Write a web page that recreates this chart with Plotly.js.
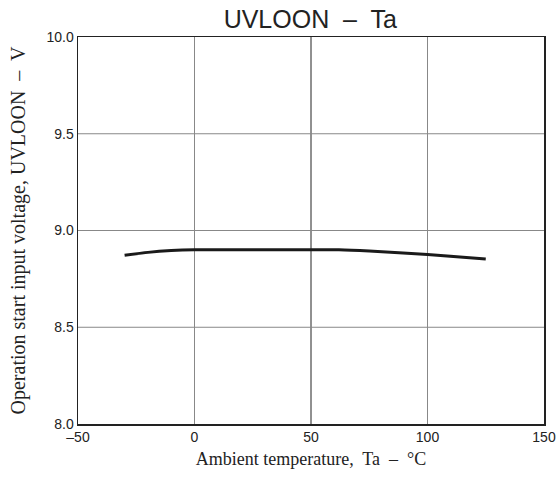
<!DOCTYPE html>
<html><head><meta charset="utf-8">
<script src="https://cdn.plot.ly/plotly-3.0.1.min.js"></script>
<style>body{margin:0;background:#fff}#c{width:558px;height:480px}</style>
</head><body><div id="c"></div>
<script>
const temps = [-30, -20, -10, 0, 25, 50, 62, 75, 100, 125];
const uvloon = [8.872, 8.887, 8.896, 8.900, 8.900, 8.900, 8.900, 8.894, 8.876, 8.853];
const xTicks = [-50, 0, 50, 100, 150];
const xTickText = ['\u201350', '0', '50', '100', '150'];
const yTicks = [8.0, 8.5, 9.0, 9.5, 10.0];
const yTickText = ['8.0', '8.5', '9.0', '9.5', '10.0'];

const shapes = [];
[0, 50, 100].forEach(v => shapes.push({type:'line', xref:'x', yref:'paper', x0:v, x1:v, y0:0, y1:1,
  line:{color: v === 50 ? '#222' : '#888', width:1}, layer:'below'}));
[8.5, 9.0, 9.5].forEach(v => shapes.push({type:'line', xref:'paper', yref:'y', x0:0, x1:1, y0:v, y1:v,
  line:{color:'#888', width:1}, layer:'below'}));

Plotly.newPlot('c', [{
  x: temps, y: uvloon, mode:'lines', line:{color:'#1a1a1a', width:3, shape:'spline', smoothing:0.6},
  hoverinfo:'skip', showlegend:false
}], {
  width:558, height:480,
  margin:{l:78, r:14, t:37, b:56},
  paper_bgcolor:'#fff', plot_bgcolor:'#fff',
  title:{text:'UVLOON  \u2013  Ta', x:0.556, xanchor:'center', y:0.96, yanchor:'middle',
    font:{family:'Liberation Sans, Arial', size:25, color:'#222'}},
  xaxis:{range:[-50,150], tickvals:xTicks, ticktext:xTickText, showgrid:false, zeroline:false,
    showline:true, mirror:true, linecolor:'#222', linewidth:1.5, ticks:'', ticklen:0,
    tickfont:{family:'Liberation Sans, Arial', size:14, color:'#222'},
    title:{text:'Ambient temperature,  Ta  \u2013  \u00B0C', standoff:8,
      font:{family:'Liberation Serif, Times New Roman', size:18, color:'#222'}}},
  yaxis:{range:[8,10], tickvals:yTicks, ticktext:yTickText, showgrid:false, zeroline:false,
    showline:true, mirror:true, linecolor:'#222', linewidth:1.5, ticks:'', ticklen:0,
    tickfont:{family:'Liberation Sans, Arial', size:14, color:'#222'},
    title:{text:'Operation start input voltage, UVLOON  \u2013  V', standoff:15,
      font:{family:'Liberation Serif, Times New Roman', size:20, color:'#222'}}},
  shapes: shapes
}, {staticPlot:true});
</script></body></html>
